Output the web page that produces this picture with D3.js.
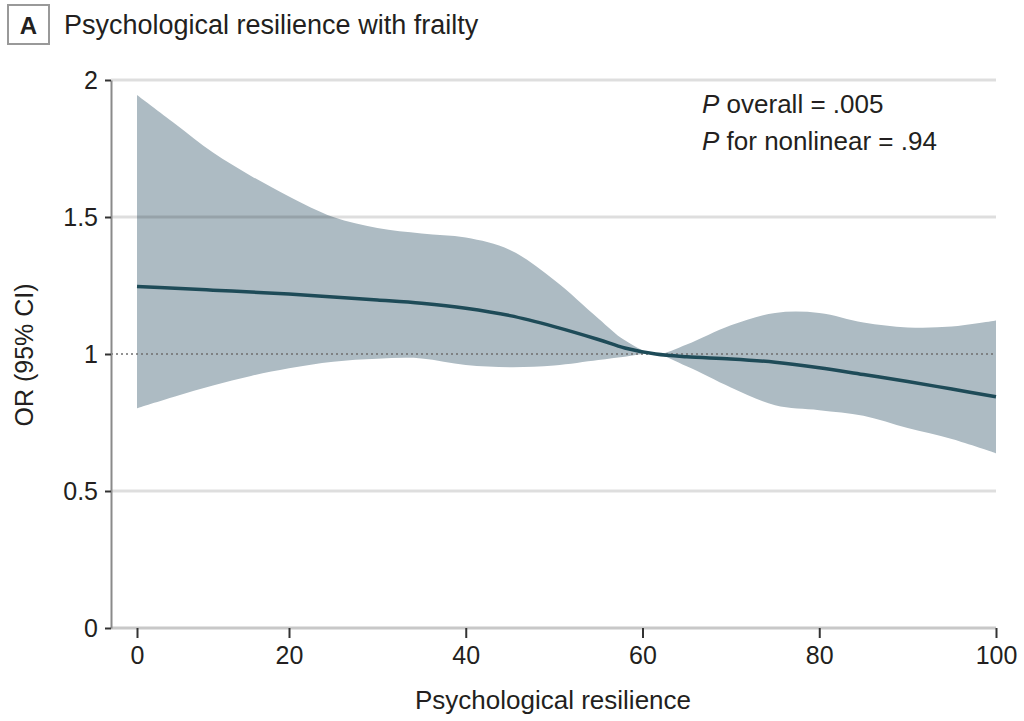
<!DOCTYPE html>
<html>
<head>
<meta charset="utf-8">
<script src="https://cdn.jsdelivr.net/npm/d3@7"></script>
<style>
  body { margin: 0; background: #fff; }
  svg text { font-family: "Liberation Sans", Arial, sans-serif; fill: #231f20; }
</style>
</head>
<body>
<svg id="chart"></svg>
<script>
const resilience = [0, 5, 10, 15, 20, 25, 30, 35, 40, 45, 50, 55, 58, 61.5, 65, 70, 75, 80, 85, 90, 95, 100];
const orEstimate = [1.246, 1.24, 1.233, 1.226, 1.219, 1.208, 1.197, 1.185, 1.167, 1.14, 1.10, 1.053, 1.022, 1.0, 0.99, 0.982, 0.97, 0.95, 0.925, 0.90, 0.872, 0.844];
const ciUpper = [1.945, 1.84, 1.735, 1.65, 1.575, 1.50, 1.46, 1.44, 1.425, 1.38, 1.27, 1.13, 1.05, 1.0, 1.035, 1.105, 1.15, 1.15, 1.115, 1.097, 1.10, 1.122];
const ciLower = [0.802, 0.845, 0.885, 0.92, 0.948, 0.972, 0.983, 0.984, 0.96, 0.952, 0.958, 0.978, 0.99, 1.0, 0.955, 0.878, 0.813, 0.795, 0.775, 0.73, 0.69, 0.638];

const xTicks = [0, 20, 40, 60, 80, 100];
const yTicks = [0, 0.5, 1, 1.5, 2];
const gridTicks = [0.5, 1.5, 2];
const pLines = [
  {p: 'P', rest: ' overall = .005'},
  {p: 'P', rest: ' for nonlinear = .94'}
];

const width = 1024, height = 721;
const plot = {left: 111, right: 996, top: 80, bottom: 628};

const svg = d3.select('#chart').attr('width', width).attr('height', height);

// the 0 tick sits off the y axis, so the x scale has a break at 20
const x = d3.scaleLinear().domain([0, 20, 100]).range([137, 289, 996]);
const y = d3.scaleLinear().domain([0, 2]).range([plot.bottom, plot.top]);

const data = resilience.map((r, i) => ({r, est: orEstimate[i], lo: ciLower[i], hi: ciUpper[i]}));
const curve = d3.curveCatmullRom.alpha(0.5);

// confidence band
const band = d3.area()
  .x(d => x(d.r))
  .y0(d => y(d.lo))
  .y1(d => y(d.hi))
  .curve(curve);

svg.append('path')
  .datum(data)
  .attr('d', band)
  .attr('fill', '#adbbc3');

// gridlines over the band, light so they show faintly through
svg.append('g')
  .selectAll('line')
  .data(gridTicks)
  .join('line')
  .attr('x1', plot.left)
  .attr('x2', plot.right)
  .attr('y1', d => y(d))
  .attr('y2', d => y(d))
  .attr('stroke', 'rgba(0,0,0,0.13)')
  .attr('stroke-width', 3);

// reference line at OR = 1
svg.append('line')
  .attr('x1', plot.left)
  .attr('x2', plot.right)
  .attr('y1', y(1))
  .attr('y2', y(1))
  .attr('stroke', '#6f6f6f')
  .attr('stroke-width', 1.5)
  .attr('stroke-dasharray', '2,3');

// estimate
const line = d3.line()
  .x(d => x(d.r))
  .y(d => y(d.est))
  .curve(curve);

svg.append('path')
  .datum(data)
  .attr('d', line)
  .attr('fill', 'none')
  .attr('stroke', '#1e4b58')
  .attr('stroke-width', 3.5);

// x baseline
svg.append('line')
  .attr('x1', plot.left)
  .attr('x2', plot.right)
  .attr('y1', plot.bottom)
  .attr('y2', plot.bottom)
  .attr('stroke', '#c8c8c8')
  .attr('stroke-width', 3);

// y axis
const yAxis = svg.append('g')
  .attr('transform', `translate(${plot.left},0)`)
  .call(d3.axisLeft(y).tickValues(yTicks).tickFormat(d => String(d)).tickSize(6).tickSizeOuter(0).tickPadding(7));
yAxis.select('.domain').attr('stroke', '#8a8a8a').attr('stroke-width', 2);
yAxis.selectAll('.tick line').attr('stroke', '#333').attr('stroke-width', 2);
yAxis.selectAll('.tick text').attr('font-size', 25).attr('fill', '#231f20');

// x axis
const xAxis = svg.append('g')
  .attr('transform', `translate(0,${plot.bottom})`)
  .call(d3.axisBottom(x).tickValues(xTicks).tickFormat(d => String(d)).tickSize(10).tickPadding(8));
xAxis.select('.domain').remove();
xAxis.selectAll('.tick line').attr('stroke', '#333').attr('stroke-width', 2);
xAxis.selectAll('.tick text').attr('font-size', 25).attr('fill', '#231f20');

// axis titles
svg.append('text')
  .attr('x', 553)
  .attr('y', 709)
  .attr('text-anchor', 'middle')
  .attr('font-size', 26)
  .text('Psychological resilience');

svg.append('text')
  .attr('transform', 'translate(33,355) rotate(-90)')
  .attr('text-anchor', 'middle')
  .attr('font-size', 25)
  .text('OR (95% CI)');

// panel label and title
svg.append('rect')
  .attr('x', 8).attr('y', 5)
  .attr('width', 41).attr('height', 39)
  .attr('fill', 'none')
  .attr('stroke', '#999')
  .attr('stroke-width', 2);

svg.append('text')
  .attr('x', 28.5).attr('y', 34)
  .attr('text-anchor', 'middle')
  .attr('font-size', 24)
  .attr('font-weight', 'bold')
  .text('A');

svg.append('text')
  .attr('x', 64).attr('y', 34)
  .attr('font-size', 27)
  .text('Psychological resilience with frailty');

// P values
const pText = svg.append('g');
pLines.forEach((l, i) => {
  const t = pText.append('text')
    .attr('x', 702)
    .attr('y', 113 + i * 37)
    .attr('font-size', 26);
  t.append('tspan').attr('font-style', 'italic').text(l.p);
  t.append('tspan').text(l.rest);
});
</script>
</body>
</html>
